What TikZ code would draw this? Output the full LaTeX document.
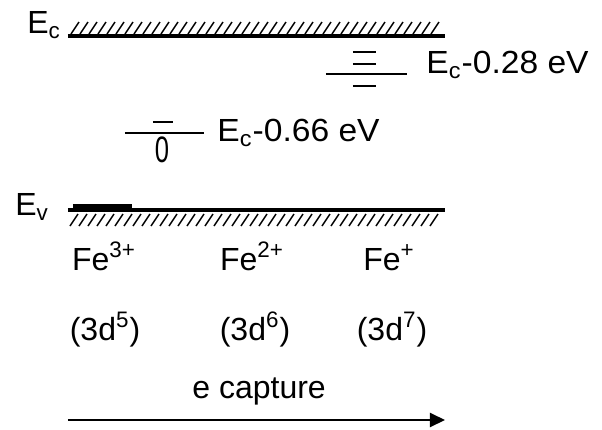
\documentclass[tikz,border=0pt]{standalone}
\usepackage{fontspec}
\setmainfont{Liberation Sans}
\usetikzlibrary{arrows.meta}
\begin{document}
\begin{tikzpicture}[x=0.5pt,y=-0.5pt,
  lbl/.style={inner sep=0pt, font=\fontsize{16}{19}\selectfont, anchor=base west},
  clbl/.style={inner sep=0pt, font=\fontsize{16}{19}\selectfont, anchor=base},
  band/.style={line width=1.9pt},
  hatchline/.style={line width=0.75pt},
  lvl/.style={line width=1pt},
  thinlvl/.style={line width=0.6pt}]
\useasboundingbox (0,0) rectangle (602,430);
% conduction band
\node[lbl] (Ec) at (27,33) {E\textsubscript{c}};
\coordinate (EcL) at (68,36);
\coordinate (EcR) at (445,36);
\draw[band] (EcL) -- (EcR);
\foreach \x in {71,80,...,436} \draw[hatchline] (\x,34) -- (\x+8,22);
% Ec - 0.28 eV level
\coordinate (a1) at (353,52); \coordinate (a2) at (376,52);
\coordinate (b1) at (353,64); \coordinate (b2) at (376,64);
\coordinate (c1) at (326,74); \coordinate (c2) at (407,74);
\coordinate (d1) at (353,86); \coordinate (d2) at (376,86);
\draw[thinlvl] (a1) -- (a2);
\draw[thinlvl] (b1) -- (b2);
\draw[lvl] (c1) -- (c2);
\draw[line width=1.2pt] (d1) -- (d2);
\node[lbl, xscale=1.05] (t28) at (426,73) {E\textsubscript{c}-0.28 eV};
% Ec - 0.66 eV level
\coordinate (e1) at (125,133); \coordinate (e2) at (204,133);
\coordinate (f1) at (153,122); \coordinate (f2) at (173,122);
\draw[lvl] (e1) -- (e2);
\draw[thinlvl] (f1) -- (f2);
\node[clbl] (zero) at (162,162) {\scalebox{0.8}[1.15]{0}};
\node[lbl, xscale=1.05] (t66) at (217,141) {E\textsubscript{c}-0.66 eV};
% valence band
\node[lbl] (Ev) at (15,215) {E\textsubscript{v}};
\coordinate (EvL) at (68,210);
\coordinate (EvR) at (445,210);
\coordinate (h1) at (73,207);
\coordinate (h2) at (132,207);
\draw[band] (EvL) -- (EvR);
\draw[line width=3.2pt] (h1) -- (h2);
\foreach \x in {70,79,...,434} \draw[hatchline] (\x,226) -- (\x+8,214);
% labels
\node[clbl] (fe3) at (104,270) {Fe\textsuperscript{3+}};
\node[clbl] (fe2) at (252,270) {Fe\textsuperscript{2+}};
\node[clbl] (fe1) at (389,270) {Fe\textsuperscript{+}};
\node[clbl] (d5) at (105,340) {(3d\textsuperscript{5})};
\node[clbl] (d6) at (255,340) {(3d\textsuperscript{6})};
\node[clbl] (d7) at (392,340) {(3d\textsuperscript{7})};
\node[lbl] (cap) at (192,398) {e capture};
\coordinate (arrS) at (68,420);
\coordinate (arrE) at (445,420);
\draw[line width=1pt, -{Triangle[length=7.5pt,width=7pt]}] (arrS) -- (arrE);
\end{tikzpicture}
\end{document}
